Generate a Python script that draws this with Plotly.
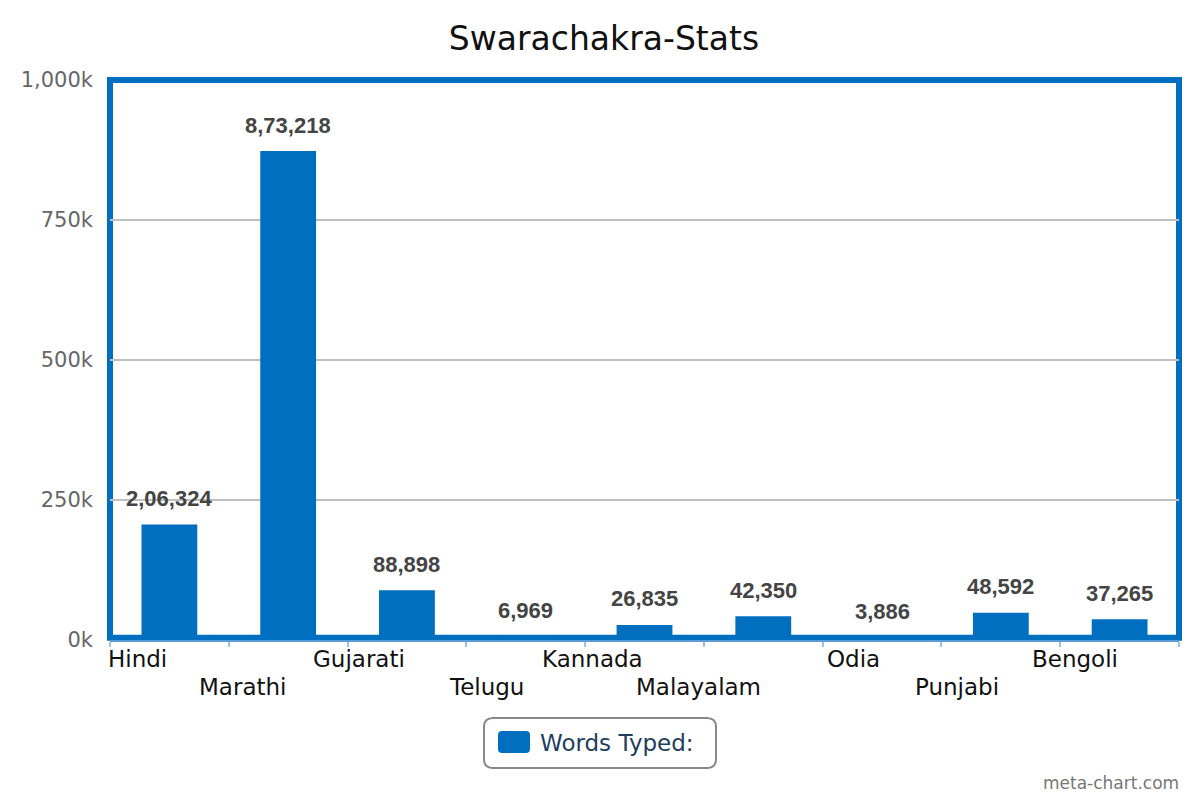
import plotly.graph_objects as go

# Chart data
languages = ['Hindi', 'Marathi', 'Gujarati', 'Telugu', 'Kannada',
             'Malayalam', 'Odia', 'Punjabi', 'Bengoli']
words_typed = [206324, 873218, 88898, 6969, 26835, 42350, 3886, 48592, 37265]
value_labels = ['2,06,324', '8,73,218', '88,898', '6,969', '26,835',
                '42,350', '3,886', '48,592', '37,265']
y_ticks = [0, 250000, 500000, 750000, 1000000]
y_tick_labels = ['0k', '250k', '500k', '750k', '1,000k']

BLUE = '#006FC0'
FONT = 'DejaVu Sans'

# page has an 8px body margin, so the figure is drawn 8px smaller
OFF = 8
W, H = 1200 - OFF, 800 - OFF
L, R, T, B = 110 - OFF, 21, 80 - OFF, 160
pw, ph = W - L - R, H - T - B

fig = go.Figure()

fig.add_trace(go.Bar(
    x=languages,
    y=words_typed,
    name='Words Typed:',
    marker=dict(color=BLUE, line=dict(width=0)),
    width=0.47,
    showlegend=False,
    hoverinfo='x+y'
))

# value labels above the bars
for lang, val, txt in zip(languages, words_typed, value_labels):
    fig.add_annotation(
        x=lang, y=val, xref='x', yref='y',
        text='<b>' + txt + '</b>', showarrow=False,
        yshift=26, yanchor='middle',
        font=dict(family='Liberation Sans', size=22, color='#444444')
    )

# staggered category labels, right edge at category centre
for i, lang in enumerate(languages):
    fig.add_annotation(
        x=lang, y=0, xref='x', yref='y',
        text=lang, showarrow=False,
        xanchor='right', yanchor='middle',
        yshift=-19 if i % 2 == 0 else -47,
        font=dict(family=FONT, size=23, color='#111111')
    )

# thick frame round the plot area
fig.add_shape(type='rect', xref='paper', yref='paper',
              x0=0, y0=0.004, x1=1, y1=1,
              line=dict(color=BLUE, width=6), layer='below')


def px(x):
    # page pixel -> paper fraction
    return (x - OFF - L) / pw


def py(y):
    return (OFF + H - B - y) / ph


def rounded(x0, y0, x1, y1, r):
    # rounded rectangle path in paper coords from page pixels
    rx, ry = r / pw, r / ph
    a, b, c, d = px(x0), py(y0), px(x1), py(y1)
    return (f'M {a+rx},{b} L {c-rx},{b} Q {c},{b} {c},{b-ry} '
            f'L {c},{d+ry} Q {c},{d} {c-rx},{d} L {a+rx},{d} '
            f'Q {a},{d} {a},{d+ry} L {a},{b-ry} Q {a},{b} {a+rx},{b} Z')


# hand-made legend box
fig.add_shape(type='path', xref='paper', yref='paper',
              path=rounded(484, 718, 716, 768, 9),
              line=dict(color='#888888', width=2), fillcolor='white')
fig.add_shape(type='path', xref='paper', yref='paper',
              path=rounded(498, 731, 530, 753, 4),
              line=dict(width=0), fillcolor=BLUE)
fig.add_annotation(x=px(538), y=py(743), xref='paper', yref='paper',
                   text='Words Typed:', showarrow=False,
                   xanchor='left', yanchor='middle',
                   font=dict(family=FONT, size=23, color='#1F3D5C'))

fig.add_annotation(x=px(1181), y=py(783), xref='paper', yref='paper',
                   text='meta-chart.com', showarrow=False,
                   xanchor='right', yanchor='middle',
                   font=dict(family=FONT, size=17, color='#777777'))

fig.update_layout(
    title=dict(text='Swarachakra-Stats', x=0.5, xanchor='center',
               y=1 - (38 - OFF) / H, yanchor='middle',
               font=dict(family=FONT, size=33, color='#111111')),
    width=W, height=H,
    margin=dict(l=L, r=R, t=T, b=B),
    paper_bgcolor='white', plot_bgcolor='white',
    bargap=0.53,
    showlegend=False,
    xaxis=dict(
        type='category',
        showticklabels=False,
        tickson='boundaries',
        ticks='outside', ticklen=5, tickwidth=2, tickcolor='#9CC3E4',
        showline=True, linecolor='#5B9BD5', linewidth=2,
        showgrid=False, zeroline=False,
        range=[-0.5, len(languages) - 0.5],
    ),
    yaxis=dict(
        range=[0, 1000000],
        tickvals=y_ticks, ticktext=y_tick_labels,
        tickfont=dict(family=FONT, size=21, color='#666666'),
        ticks='', ticklabelstandoff=16,
        showgrid=True, gridcolor='#C0C0C0', gridwidth=2,
        zeroline=False, showline=False,
    ),
)

fig.write_html('out.html')
